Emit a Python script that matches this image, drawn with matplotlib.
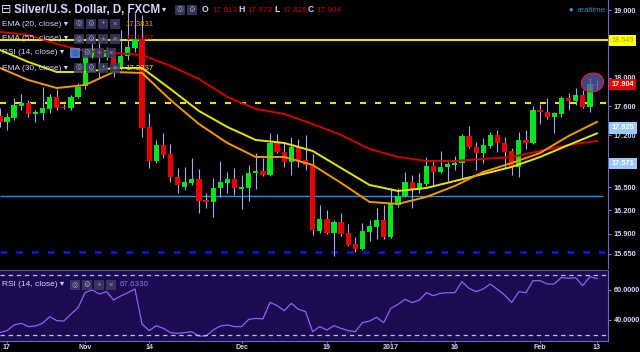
import matplotlib
matplotlib.use("Agg")
import matplotlib.pyplot as plt
from matplotlib.patches import Rectangle
from matplotlib.path import Path
from matplotlib.transforms import Affine2D
from matplotlib.ticker import NullLocator
import numpy as np

plt.rcParams['font.family'] = ['Liberation Sans', 'DejaVu Sans']

# Silver/USD daily candles (FXCM), bar -1 = Oct 14 2016 ... bar 83 = Feb 13 2017
bar_idx = list(range(-1, 84))
opens = [17.464, 17.381, 17.436, 17.603, 17.646, 17.492, 17.506, 17.562, 17.730, 17.589,
         17.575, 17.730, 17.886, 18.303, 18.420, 18.303, 18.391, 18.158, 18.318, 18.435,
         18.567, 17.312, 16.850, 17.066, 16.944, 16.637, 16.506, 16.558, 16.610, 16.336,
         16.310, 16.492, 16.558, 16.610, 16.479, 16.492, 16.690, 16.716, 16.663, 17.093,
         16.971, 16.837, 17.039, 16.864, 16.810, 15.938, 16.091, 15.912, 16.052, 15.912,
         15.774, 15.712, 15.925, 15.988, 16.078, 15.862, 16.271, 16.388, 16.571, 16.466,
         16.545, 16.783, 16.703, 16.770, 16.796, 16.823, 17.188, 17.039, 16.958, 17.052,
         17.202, 17.093, 16.985, 16.770, 17.134, 17.093, 17.548, 17.520, 17.450, 17.492,
         17.716, 17.674, 17.758, 17.589, 17.913]
highs = [17.575, 17.506, 17.716, 17.772, 17.688, 17.548, 17.872, 17.772, 17.843, 17.632,
         17.758, 17.929, 18.435, 18.508, 18.626, 18.449, 18.435, 18.701, 18.970, 18.955,
         18.925, 17.506, 17.134, 17.230, 17.079, 16.756, 16.770, 16.890, 16.743, 16.427,
         16.624, 16.850, 16.703, 16.756, 16.663, 16.796, 16.958, 16.890, 17.230, 17.216,
         17.107, 17.175, 17.147, 17.202, 16.944, 16.271, 16.206, 16.078, 16.168, 16.027,
         15.862, 16.040, 16.078, 16.232, 16.271, 16.492, 16.492, 16.703, 16.663, 16.690,
         16.904, 16.864, 16.985, 16.837, 16.917, 17.216, 17.326, 17.107, 17.161, 17.243,
         17.271, 17.175, 17.025, 17.243, 17.271, 17.603, 17.632, 17.716, 17.520, 17.744,
         17.787, 17.857, 17.829, 18.000, 17.973]
lows = [17.312, 17.271, 17.409, 17.548, 17.450, 17.381, 17.409, 17.506, 17.548, 17.562,
        17.548, 17.716, 17.843, 18.289, 18.000, 18.260, 18.014, 18.115, 18.260, 18.376,
        17.175, 16.756, 16.823, 16.890, 16.571, 16.427, 16.466, 16.532, 16.168, 16.232,
        16.116, 16.375, 16.427, 16.401, 16.219, 16.323, 16.479, 16.650, 16.650, 16.958,
        16.770, 16.663, 16.770, 16.730, 15.887, 15.912, 15.900, 15.625, 15.874, 15.749,
        15.675, 15.700, 15.812, 15.837, 15.837, 15.855, 16.245, 16.375, 16.232, 16.427,
        16.519, 16.519, 16.690, 16.584, 16.730, 16.624, 17.025, 16.730, 16.823, 17.025,
        16.971, 16.756, 16.663, 16.637, 17.012, 17.080, 17.353, 17.422, 17.230, 17.450,
        17.548, 17.618, 17.575, 17.520, 17.829]
closes = [17.381, 17.450, 17.618, 17.646, 17.492, 17.520, 17.575, 17.730, 17.575, 17.575,
          17.730, 17.872, 18.318, 18.420, 18.303, 18.406, 18.187, 18.318, 18.449, 18.567,
          17.298, 16.850, 17.066, 16.931, 16.637, 16.532, 16.571, 16.610, 16.323, 16.310,
          16.492, 16.571, 16.610, 16.492, 16.506, 16.690, 16.716, 16.663, 17.093, 16.971,
          16.837, 17.039, 16.850, 16.796, 15.950, 16.091, 15.912, 16.052, 15.900, 15.762,
          15.712, 15.938, 16.001, 16.078, 15.862, 16.284, 16.388, 16.571, 16.466, 16.558,
          16.783, 16.703, 16.770, 16.810, 16.823, 17.188, 17.039, 16.958, 17.066, 17.202,
          17.093, 16.971, 16.770, 17.134, 17.093, 17.548, 17.520, 17.450, 17.506, 17.716,
          17.674, 17.758, 17.589, 17.914, 17.904]

date_ticks = [0, 11, 20, 33, 45, 54, 63, 75, 83]
date_labels = ['17', 'Nov', '14', 'Dec', '19', '2017', '16', 'Feb', '13']

# moving averages, read every 4th bar
ema_idx = list(range(-1, 84, 4))
ema20 = [18.144, 17.971, 17.857, 17.900, 18.086, 18.072, 17.688, 17.353, 17.093, 16.904, 16.904,
         16.796, 16.558, 16.310, 16.284, 16.375, 16.519, 16.703, 16.823, 16.958, 17.188, 17.383]
ema30 = [18.406, 18.231, 18.086, 18.086, 18.144, 18.144, 17.843, 17.534, 17.312, 17.134, 17.093,
         16.985, 16.756, 16.532, 16.453, 16.492, 16.584, 16.677, 16.770, 16.904, 17.066, 17.224]
ema55 = [18.671, 18.626, 18.494, 18.391, 18.362, 18.332, 18.173, 17.986, 17.730, 17.562, 17.492,
         17.353, 17.202, 17.012, 16.904, 16.850, 16.850, 16.877, 16.904, 16.985, 17.066, 17.121]
legend_values = {'EMA (20, close)': '17.3831', 'EMA (55, close)': '17.1207',
                 'EMA (30, close)': '17.2237', 'RSI (14, close)': '67.6330'}

rsi14 = [31.6, 32.9, 36.7, 37.8, 35.6, 36.0, 37.8, 42.2, 39.6, 39.3, 44.0, 48.2, 58.4, 60.0,
         57.3, 58.9, 53.3, 56.0, 58.2, 60.7, 37.3, 32.9, 36.2, 34.4, 31.6, 31.1, 31.6, 32.2,
         29.3, 29.3, 33.3, 36.0, 36.7, 35.6, 35.6, 40.4, 41.1, 40.7, 51.8, 49.6, 46.2, 51.1,
         47.1, 45.6, 32.2, 35.6, 33.3, 36.2, 34.4, 32.9, 32.2, 38.2, 39.3, 41.8, 38.2, 47.8,
         50.4, 53.8, 51.6, 53.3, 58.2, 56.2, 57.8, 58.2, 58.2, 65.6, 61.1, 58.9, 60.7, 64.0,
         60.4, 56.7, 51.6, 58.9, 58.2, 66.2, 66.2, 64.0, 64.0, 68.4, 67.8, 68.2, 62.9, 68.9, 67.6]

price_ticks = [19.0, 18.0, 17.6, 17.2, 16.5, 16.2, 15.9, 15.65]
resistance = 18.549
dashed_level = 17.65
blue_level = 16.388
low_level = 15.67
# labels on the price scale: (price position, text)
scale_marks = [(17.298, '17.925'), (16.816, '17.571')]

W, H = 640, 352
fig = plt.figure(figsize=(6.4, 3.52), dpi=100, facecolor='black')


def fx(x):
    return x / W


def fy(y):
    return 1 - y / H


ax = fig.add_axes([0, fy(268), fx(608), 268 / H])
rax = fig.add_axes([0, fy(341), fx(608), 71 / H])
xlim = (-0.985, 84.55)

# --- main price panel ---
ax.set_facecolor('black')
x = np.array(bar_idx)
o = np.array(opens)
c = np.array(closes)
up = c >= o
ax.vlines(x, lows, highs, color='#a8a8ee', lw=0.8, zorder=2)
ax.bar(x, np.maximum(np.abs(c - o), 0.015), bottom=np.minimum(o, c), width=0.74,
       color=np.where(up, '#00e61e', '#e60000'), linewidth=0, zorder=3)

ax.plot(ema_idx, ema55, color='#d00000', lw=1.4, zorder=4)
ax.plot(ema_idx, ema30, color='#e6e600', lw=1.4, zorder=4)
ax.plot(ema_idx, ema20, color='#f09a00', lw=1.4, zorder=4)

ax.axhline(resistance, color='#e6e600', lw=1.5, zorder=1)
ax.axhline(dashed_level, color='#e6e600', lw=1.5, ls=(0, (2.9, 4.3)), zorder=1)
ax.hlines(blue_level, xlim[0], 83.85, color='#2a90e0', lw=1.0, zorder=1)
ax.hlines(low_level, xlim[0], 84.1, color='#1414f0', lw=1.8, ls=(0, (2.7, 3.6)), zorder=1)

ell = Path.unit_circle().transformed(Affine2D().scale(1.2, 1.0).rotate_deg(12))
ax.plot([82.3], [17.943], marker=ell, ms=16.5, mfc=(0.36, 0.36, 0.68, 0.75),
        mec='#d82040', mew=0.9, zorder=6)

ax.set_yscale('log')
ax.set_ylim(15.475, 19.152)
ax.set_xlim(*xlim)
ax.yaxis.set_minor_locator(NullLocator())
ax.yaxis.tick_right()
ax.set_yticks(price_ticks)
ax.set_yticklabels([f'{v:.3f}' for v in price_ticks])
ax.set_xticks([])
ax.tick_params(axis='y', labelcolor='#d4d4ff', color='#8080c8', labelsize=5.3,
               length=2.5, width=0.8, pad=1.5)
for lbl in ax.get_yticklabels():
    lbl.set_fontweight('bold')
for s in ['top', 'left', 'bottom']:
    ax.spines[s].set_visible(False)
ax.spines['right'].set_color('#6a6abc')

ytr = ax.get_yaxis_transform()
ax.text(1.006, resistance, f'{resistance:.3f}', transform=ytr, fontsize=5.3, color='#a8a800',
        va='center', ha='left', bbox=dict(boxstyle='square,pad=0.3', fc='#ffff00', ec='none'),
        clip_on=False, zorder=7)
ax.text(1.006, closes[-1], f'{closes[-1]:.3f}', transform=ytr, fontsize=5.3, color='white',
        fontweight='bold', va='center', ha='left',
        bbox=dict(boxstyle='square,pad=0.3', fc='#e60000', ec='none'), clip_on=False, zorder=7)
for pos, txt in scale_marks:
    ax.text(1.006, pos, txt, transform=ytr, fontsize=5.3, color='white', fontweight='bold',
            va='center', ha='left', bbox=dict(boxstyle='square,pad=0.3', fc='#9cc8ff', ec='none'),
            clip_on=False, zorder=7)

# --- RSI panel ---
rax.set_facecolor('#1c0b50')
rax.plot(bar_idx, rsi14, color='#9060f8', lw=0.9)
for lvl in (70, 30):
    rax.axhline(lvl, color='#bcbcec', lw=0.9, ls=(0, (3.5, 3)))
rax.set_ylim(26.0, 73.33)
rax.set_xlim(*xlim)
rax.yaxis.tick_right()
rax.set_yticks([60, 40])
rax.set_yticklabels(['60.0000', '40.0000'])
rax.set_xticks(date_ticks)
rax.set_xticklabels(date_labels)
rax.tick_params(axis='y', labelcolor='#d4d4ff', color='#8080c8', labelsize=5.3,
                length=2.5, width=0.8, pad=1.5)
rax.tick_params(axis='x', labelcolor='#d4d4ff', color='#8080c8', labelsize=5.1,
                length=1.5, width=0.8, pad=0.4)
for lbl in rax.get_yticklabels() + rax.get_xticklabels():
    lbl.set_fontweight('bold')
rax.spines['left'].set_visible(False)
rax.spines['top'].set_color('#55559a')
rax.spines['bottom'].set_color('#6a6abc')
rax.spines['right'].set_color('#6a6abc')


# --- legend overlays ---
def button(xl, yc, glyph, fc='#3c3c64', gc='#9a9acc'):
    fig.patches.append(Rectangle((fx(xl), fy(yc + 5)), 10 / W, 10 / H, transform=fig.transFigure,
                                 fc=fc, ec='none', alpha=0.85, zorder=8))
    fig.text(fx(xl + 5), fy(yc), glyph, ha='center', va='center', fontsize=5.5,
             color=gc, zorder=9)


txt_col = '#d4d4ff'
fig.text(fx(1), fy(10), '\u229f', fontsize=9, color=txt_col, va='center', ha='left', zorder=9)
fig.text(fx(14), fy(10), 'Silver/U.S. Dollar, D, FXCM', fontsize=8.3, fontweight='bold',
         color=txt_col, va='center', ha='left', zorder=9)
fig.text(fx(162), fy(10), '\u25be', fontsize=6, color=txt_col, va='center', ha='left', zorder=9)
button(175, 10, '\u25ce')
button(187, 10, '\u2699')
for lx, letter, vx, val in [(202, 'O', 212, opens[-1]), (238, 'H', 247, highs[-1]),
                            (274, 'L', 282, lows[-1]), (308, 'C', 316, closes[-1])]:
    fig.text(fx(lx), fy(10), letter, fontsize=6.2, fontweight='bold', color=txt_col,
             va='center', ha='left', zorder=9)
    fig.text(fx(vx), fy(10), f'{val:.3f}', fontsize=5.9, color='#cc0000',
             va='center', ha='left', zorder=9)

rows = [(24, 'EMA (20, close)', '#f09a00', 74),
        (39, 'EMA (55, close)', '#cc1010', 74),
        (53, 'RSI (14, close)', None, 70),
        (68, 'EMA (30, close)', '#e6e600', 74)]
for yc, name, vcol, bx in rows:
    fig.text(fx(2), fy(yc), name + ' \u25be', fontsize=6, color=txt_col, va='center',
             ha='left', zorder=9)
    for k, g in enumerate(['\u25ce', '\u2699', '+', '\u00d7']):
        if vcol is None and k == 0:
            button(bx + 12 * k, yc, g, fc='#5a8ee8', gc='#2a4aa0')
        else:
            button(bx + 12 * k, yc, g)
    if vcol:
        fig.text(fx(125), fy(yc), legend_values[name], fontsize=5.6, color=vcol, va='center',
                 ha='left', zorder=9)

fig.text(fx(2), fy(285), 'RSI (14, close) \u25be', fontsize=6, color=txt_col, va='center',
         ha='left', zorder=9)
for k, g in enumerate(['\u25ce', '\u2699', '+', '\u00d7']):
    button(70 + 12 * k, 285, g)
fig.text(fx(120), fy(285), legend_values['RSI (14, close)'], fontsize=5.8, color='#9c6cff',
         va='center', ha='left', zorder=9)

fig.text(fx(568), fy(10), '\u25cf', fontsize=5.5, color='#2ea0ee', va='center', ha='left', zorder=9)
fig.text(fx(577), fy(10), 'realtime', fontsize=5.7, color='#3d8fc4', va='center', ha='left', zorder=9)

fig.savefig('out.png', dpi=100, facecolor='black')
